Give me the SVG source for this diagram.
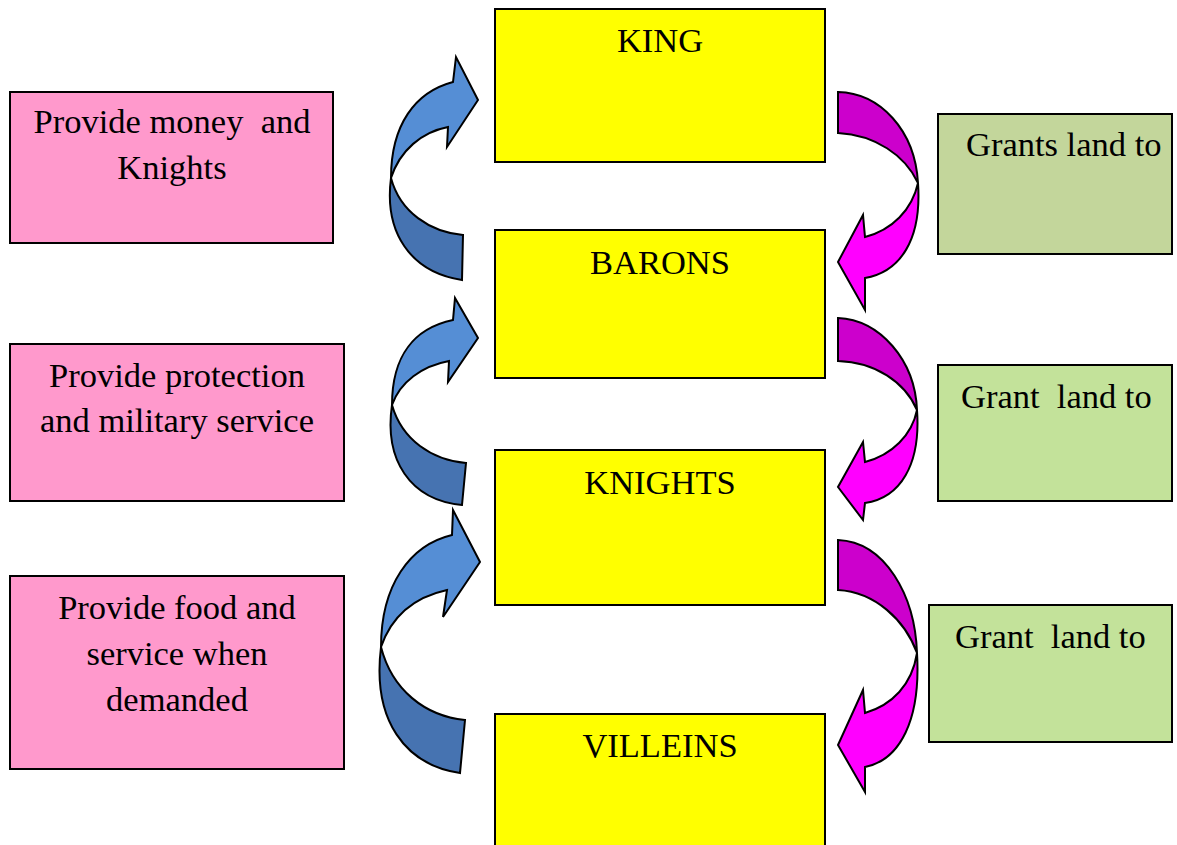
<svg xmlns="http://www.w3.org/2000/svg" width="1177" height="845" viewBox="0 0 1177 845">
<style>
.box{stroke:#000;stroke-width:2}
.y{fill:#FFFF00}
.p{fill:#FF99CC}
.g1{fill:#C3D69B}
.g2{fill:#C3E29A}
text{font-family:"Liberation Serif","Times New Roman",serif;font-size:34.5px;fill:#000;white-space:pre}
.c{text-anchor:middle}
.arr{stroke:#000;stroke-width:2;stroke-linejoin:miter}
.bl{fill:#558ED5}
.bd{fill:#4673B1}
.md{fill:#CC00CC}
.ml{fill:#FF00FF}
</style>
<rect width="1177" height="845" fill="#fff"/>
<g id="king"><rect class="box y" x="495" y="9" width="330" height="153"/><text class="c" x="660" y="52">KING</text></g>
<g id="barons"><rect class="box y" x="495" y="230" width="330" height="148"/><text class="c" x="660" y="274">BARONS</text></g>
<g id="knights"><rect class="box y" x="495" y="450" width="330" height="155"/><text class="c" x="660" y="494">KNIGHTS</text></g>
<g id="villeins"><rect class="box y" x="495" y="714" width="330" height="140"/><text class="c" x="660" y="757">VILLEINS</text></g>
<g id="provide1"><rect class="box p" x="10" y="92" width="323" height="151"/><text class="c" x="172" y="133">Provide money  and</text><text class="c" x="172" y="179">Knights</text></g>
<g id="provide2"><rect class="box p" x="10" y="344" width="334" height="157"/><text class="c" x="177" y="387">Provide protection</text><text class="c" x="177" y="432">and military service</text></g>
<g id="provide3"><rect class="box p" x="10" y="576" width="334" height="193"/><text class="c" x="177" y="619">Provide food and</text><text class="c" x="177" y="665">service when</text><text class="c" x="177" y="711">demanded</text></g>
<g id="grant1"><rect class="box g1" x="938" y="114" width="234" height="140"/><text x="966" y="156">Grants land to</text></g>
<g id="grant2"><rect class="box g2" x="938" y="365" width="234" height="136"/><text x="961" y="408">Grant  land to</text></g>
<g id="grant3"><rect class="box g2" x="929" y="605" width="243" height="137"/><text x="955" y="648">Grant  land to</text></g>
<g id="connectors">
<path class="arr bd" d="M 391,178 C 400,212 430,232 463,235 L 462,280 C 410,272 384,232 391,178 Z"/>
<path class="arr bl" d="M 391,178 C 391,125 415,92 453,82 L 456,57 L 478,100 L 447,147 L 448,127 C 422,132 400,150 391,178 Z"/>
<path class="arr bd" d="M 392,405 C 402,440 432,460 466,463 L 462,505 C 410,500 384,460 392,405 Z"/>
<path class="arr bl" d="M 392,405 C 392,355 415,328 453,320 L 455,298 L 478,338 L 448,382 L 449,361 C 422,366 400,382 392,405 Z"/>
<path class="arr bd" d="M 381,647 C 392,690 425,716 465,720 L 460,773 C 405,765 372,720 381,647 Z"/>
<path class="arr bl" d="M 381,647 C 381,585 410,545 452,535 L 453,510 L 480,562 L 443,617 L 447,590 C 415,597 392,615 381,647 Z"/>
<path class="arr md" d="M 838,92 C 880,93 915,130 918,183 C 905,155 875,135 838,133 Z"/>
<path class="arr ml" d="M 918,183 C 922,240 900,272 865,278 L 865,310 L 838,262 L 863,215 L 865,237 C 892,230 912,210 918,183 Z"/>
<path class="arr md" d="M 838,318 C 880,320 915,360 917,410 C 905,382 875,362 838,361 Z"/>
<path class="arr ml" d="M 917,410 C 921,465 900,498 865,503 L 863,520 L 838,487 L 863,442 L 865,462 C 892,455 912,435 917,410 Z"/>
<path class="arr md" d="M 838,540 C 885,542 915,595 917,653 C 905,620 875,592 838,590 Z"/>
<path class="arr ml" d="M 917,653 C 921,720 900,760 865,767 L 865,792 L 838,745 L 863,690 L 865,713 C 892,705 912,685 917,653 Z"/>
</g>
</svg>
